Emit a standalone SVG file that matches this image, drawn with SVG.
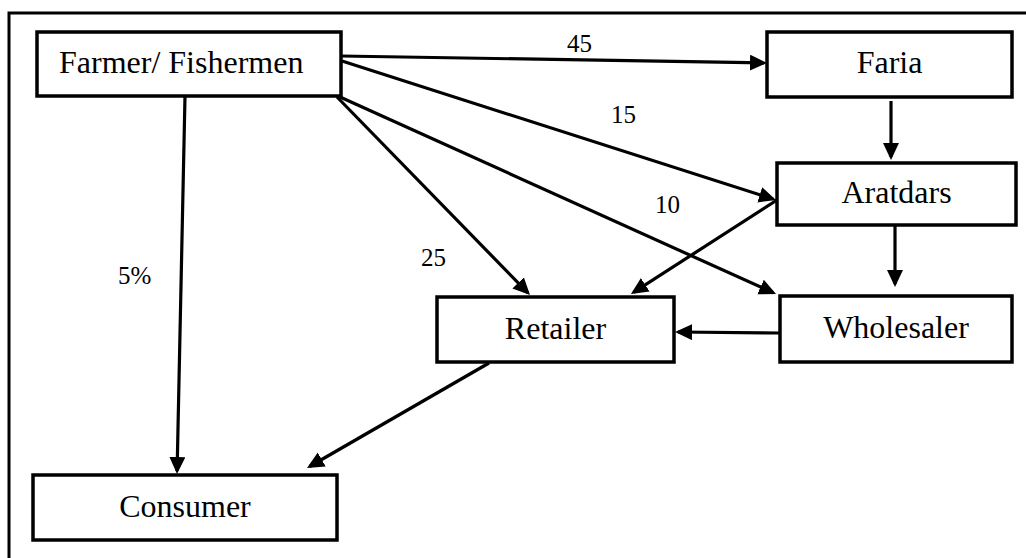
<svg xmlns="http://www.w3.org/2000/svg" width="1026" height="558" viewBox="0 0 1026 558">
<style>
.box{fill:#fff;stroke:#000;stroke-width:3.5}
.lbl{font-size:32px;fill:#000}
.num{font-size:25px;fill:#000}
.ln{stroke:#000;stroke-width:3.2;fill:none;marker-end:url(#ah)}
.frame{stroke:#000;stroke-width:3;fill:none}
</style>
<defs>
<marker id="ah" markerUnits="userSpaceOnUse" markerWidth="20" markerHeight="18" refX="14" refY="8" orient="auto">
<path d="M0,0 L17,8 L0,16 z" fill="#000"/>
</marker>
</defs>
<rect width="1026" height="558" fill="#fff"/>
<path class="frame" d="M9,558 V13 H1026"/>
<g id="connectors" font-family="Liberation Serif, Tinos, Times New Roman, DejaVu Serif, serif">
<line class="ln" x1="341" y1="56" x2="764" y2="62.9"/>
<line class="ln" x1="342" y1="61" x2="773.1" y2="199.1"/>
<line class="ln" x1="340" y1="97" x2="773.3" y2="292.8"/>
<line class="ln" x1="337" y1="97" x2="527.9" y2="292.9"/>
<line class="ln" x1="185" y1="96" x2="177.1" y2="471"/>
<line class="ln" x1="891" y1="101" x2="891" y2="157"/>
<line class="ln" x1="777" y1="200" x2="633.5" y2="292.4"/>
<line class="ln" x1="895" y1="226" x2="895" y2="284"/>
<line class="ln" x1="780" y1="333" x2="678" y2="332"/>
<line class="ln" x1="489" y1="363" x2="309.6" y2="466.5"/>
<text class="num" x="567" y="52">45</text>
<text class="num" x="611" y="123">15</text>
<text class="num" x="655" y="213">10</text>
<text class="num" x="421" y="266">25</text>
<text class="num" x="118" y="284">5%</text>
</g>
<g id="nodes" font-family="Liberation Serif, Tinos, Times New Roman, DejaVu Serif, serif">
<g id="farmer">
<rect class="box" x="37" y="32" width="304" height="64"/>
<text class="lbl" x="59" y="73">Farmer/ Fishermen</text>
</g>
<g id="faria">
<rect class="box" x="767" y="32" width="245" height="65"/>
<text class="lbl" x="889.5" y="73" text-anchor="middle">Faria</text>
</g>
<g id="aratdars">
<rect class="box" x="777" y="163" width="239" height="62"/>
<text class="lbl" x="896.5" y="203" text-anchor="middle">Aratdars</text>
</g>
<g id="retailer">
<rect class="box" x="437" y="297" width="237" height="65"/>
<text class="lbl" x="555.5" y="339" text-anchor="middle">Retailer</text>
</g>
<g id="wholesaler">
<rect class="box" x="780" y="296" width="232" height="66"/>
<text class="lbl" x="896" y="338" text-anchor="middle">Wholesaler</text>
</g>
<g id="consumer">
<rect class="box" x="33" y="475" width="304" height="65"/>
<text class="lbl" x="185" y="517" text-anchor="middle">Consumer</text>
</g>
</g>
</svg>
